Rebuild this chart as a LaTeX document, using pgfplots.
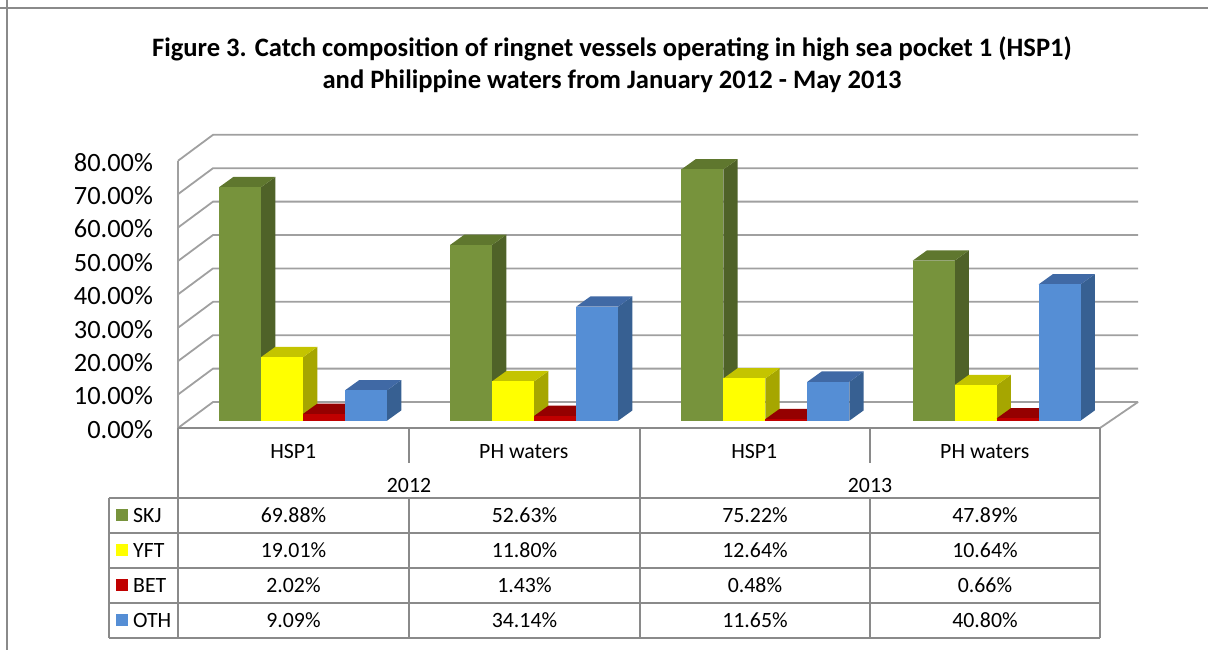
\documentclass[border=0pt]{standalone}
\usepackage{fontspec}
\setmainfont{Carlito}
\usepackage{pgfplots}
\pgfplotsset{compat=1.18}

\definecolor{skjF}{HTML}{77933C}\definecolor{skjS}{HTML}{4F6228}\definecolor{skjT}{HTML}{5F772E}
\definecolor{yftF}{HTML}{FFFF00}\definecolor{yftS}{HTML}{A6A600}\definecolor{yftT}{HTML}{C4C400}
\definecolor{betF}{HTML}{C00000}\definecolor{betS}{HTML}{800000}\definecolor{betT}{HTML}{950000}
\definecolor{othF}{HTML}{558ED5}\definecolor{othS}{HTML}{376092}\definecolor{othT}{HTML}{4069A5}
\definecolor{gridc}{HTML}{A0A0A0}
\definecolor{linec}{HTML}{8A8A8A}

% one 3D column: group, position in group, value, colour prefix
\newcommand{\column}[4]{%
  \pgfmathsetmacro\xa{#1*1.003-0.5+(41+42*#2)/230.5}%
  \pgfmathsetmacro\xb{\xa+0.1822}%
  \pgfmathsetmacro\xc{\xb+0.062}%
  \pgfmathsetmacro\xd{\xa+0.062}%
  \pgfmathsetmacro\ya{2.19}%
  \pgfmathsetmacro\yb{2.19+#3}%
  \pgfmathsetmacro\yc{\yb+3.08}%
  \pgfmathsetmacro\yd{\ya+3.08}%
  \addplot[fill=#4S,draw=none,forget plot] coordinates {(\xb,\ya) (\xc,\yd) (\xc,\yc) (\xb,\yb)};
  \addplot[fill=#4T,draw=none,forget plot] coordinates {(\xa,\yb) (\xb,\yb) (\xc,\yc) (\xd,\yc)};
  \addplot[fill=#4F,draw=none,forget plot] coordinates {(\xa,\ya) (\xb,\ya) (\xb,\yb) (\xa,\yb)};
}
% one gridline along the side wall and the back wall
\newcommand{\gridline}[1]{%
  \pgfmathsetmacro\yb{#1+7.78}%
  \addplot[gridc,line width=1.8pt,forget plot] coordinates {(-0.5,#1) (-0.348,\yb) (3.665,\yb)};
}

\begin{document}
\begin{tikzpicture}
\begin{axis}[
    scale only axis,
    width=922pt, height=267.2pt,
    xmin=-0.5, xmax=3.5,
    ymin=0, ymax=80,
    clip=false,
    axis line style={draw=none},
    major tick length=0pt,
    xtick={0,1,2,3},
    xticklabels={HSP1,PH waters,HSP1,PH waters},
    xticklabel style={font=\fontsize{21.8}{25}\selectfont,anchor=base,yshift=-31pt},
    ytick={0,10,...,80},
    yticklabel={\pgfmathprintnumber[fixed,fixed zerofill,precision=2,assume math mode=true]{\tick}\%},
    yticklabel style={font=\fontsize{26.4}{30}\selectfont,xshift=-21.5pt,yshift=-1.5pt},
    title={Figure 3. Catch composition of ringnet vessels operating in high sea pocket 1 (HSP1)\\and Philippine waters from January 2012 - May 2013},
    title style={at={(axis description cs:0.4707,1.338)},anchor=center,align=center,
        font=\fontsize{26.6}{31.5}\selectfont\bfseries},
]
\gridline{0}\gridline{10}\gridline{20}\gridline{30}\gridline{40}\gridline{50}\gridline{60}\gridline{70}\gridline{80}
% floor edge on the right
\addplot[gridc,line width=1.8pt,forget plot] coordinates {(3.5,0) (3.665,7.78)};

\column{0}{0}{69.88}{skj}\column{0}{1}{19.01}{yft}\column{0}{2}{2.02}{bet}\column{0}{3}{9.09}{oth}
\column{1}{0}{52.63}{skj}\column{1}{1}{11.80}{yft}\column{1}{2}{1.43}{bet}\column{1}{3}{34.14}{oth}
\column{2}{0}{75.22}{skj}\column{2}{1}{12.64}{yft}\column{2}{2}{0.48}{bet}\column{2}{3}{11.65}{oth}
\column{3}{0}{47.89}{skj}\column{3}{1}{10.64}{yft}\column{3}{2}{0.66}{bet}\column{3}{3}{40.80}{oth}
\end{axis}

% page frame, data table: in pixels of the picture, y downwards
\begin{scope}[x=1pt,y=-1pt,shift={(-178pt,428pt)}]
\path[use as bounding box] (0,0) rectangle (1208,650);
\draw[linec,line width=2pt] (0,8) -- (1208,8) (7,0) -- (7,650);
\draw[gridc,line width=1.8pt] (178,160.8) -- (178,428);
\draw[linec,line width=2.2pt]
    (178,428) -- (1100,428)
    (178,428) -- (178,638) (1100,428) -- (1100,638)
    (409,428) -- (409,463) (870,428) -- (870,463) (640,428) -- (640,498)
    (109,498) -- (1100,498) (109,533) -- (1100,533) (109,568) -- (1100,568)
    (109,603) -- (1100,603) (109,638) -- (1100,638)
    (109,498) -- (109,638)
    (409,498) -- (409,638) (640,498) -- (640,638) (870,498) -- (870,638);
\tikzset{cell/.style={anchor=base,inner sep=0pt,font=\fontsize{21.8}{25}\selectfont}}
\node[cell] at (409,493) {2012};
\node[cell] at (870,493) {2013};
\foreach \y/\k/\c/\n/\a/\b/\d/\e in {
    523/522/skjF/SKJ/69.88/52.63/75.22/47.89,
    558/557/yftF/YFT/19.01/11.80/12.64/10.64,
    593/592/betF/BET/2.02/1.43/0.48/0.66,
    628/627/othF/OTH/9.09/34.14/11.65/40.80}{
  \fill[\c] (116,\k-13) rectangle (128,\k-1);
  \node[cell,anchor=base west] at (133,\y) {\n};
  \node[cell] at (293.5,\y) {\a\%};
  \node[cell] at (524.5,\y) {\b\%};
  \node[cell] at (755,\y) {\d\%};
  \node[cell] at (985,\y) {\e\%};
}
\end{scope}
\end{tikzpicture}
\end{document}
